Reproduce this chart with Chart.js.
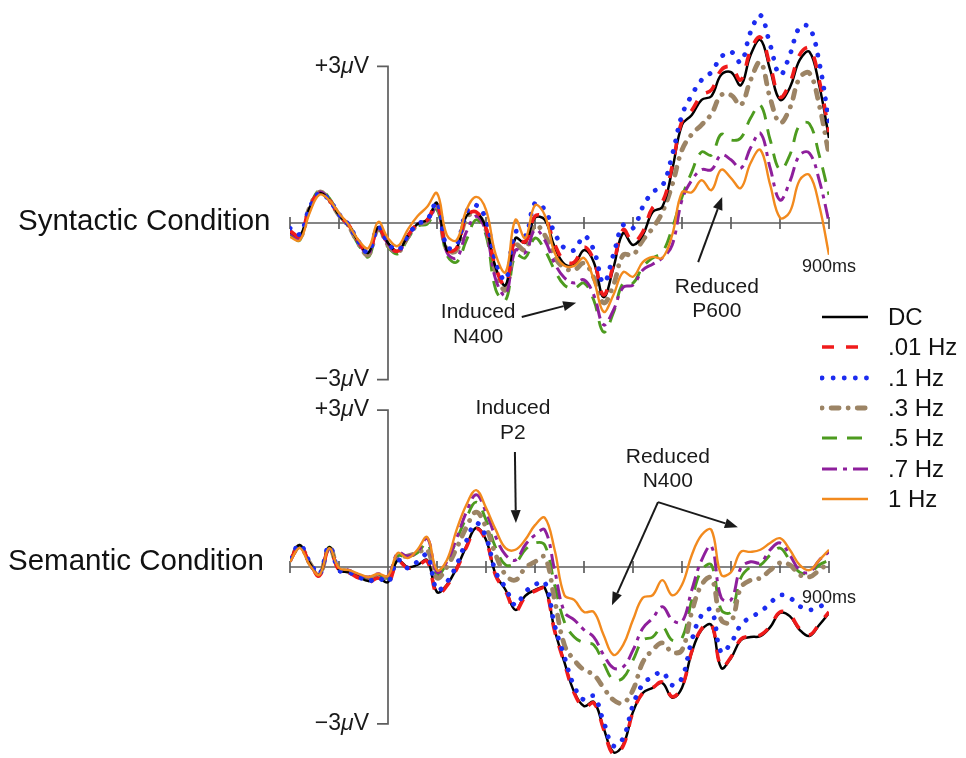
<!DOCTYPE html>
<html>
<head>
<meta charset="utf-8">
<script src="https://cdn.jsdelivr.net/npm/chart.js@4.4.1/dist/chart.umd.min.js"></script>
<style>
  html, body { margin: 0; padding: 0; background: #fff; }
  body {
    width: 966px; height: 758px; position: relative; overflow: hidden;
    font-family: 'Liberation Sans', Arial, Helvetica, sans-serif; color: #111;
  }
  .panel { position: absolute; left: 0; width: 966px; }
  #panelTop { top: 0; height: 395px; }
  #panelBot { top: 395px; height: 363px; }
  .cond { position: absolute; font-size: 29.5px; line-height: 1; white-space: nowrap; }
  #legend { position: absolute; left: 820px; top: 302px; }
  .lg-row { height: 30.3px; display: flex; align-items: center; }
  .lg-row svg { width: 50px; height: 12px; margin-right: 18px; }
  .lg-row span { font-size: 24px; line-height: 1; }
</style>
</head>
<body>
<div class="panel" id="panelTop"><canvas id="chartTop"></canvas></div>
<div class="panel" id="panelBot"><canvas id="chartBot"></canvas></div>
<div class="cond" style="left:18px;top:205px">Syntactic Condition</div>
<div class="cond" style="left:8px;top:545px">Semantic Condition</div>
<div id="legend"></div>

<script>
// ERP waveforms, syntactic vs semantic condition, one trace per high-pass filter

const TIMES = [-200,-180,-160,-140,-120,-100,-80,-60,-40,-20,0,20,40,60,80,100,120,140,160,180,200,
  220,240,260,280,300,320,340,360,380,400,420,440,460,480,500,520,540,560,580,600,620,640,660,680,700,
  720,740,760,780,800,820,840,860,880,900];
const X_TICKS = [-200,-100,0,100,200,300,400,500,600,700,800,900];
const Y_TICKS = [-3, 3];
const FILTERS = ['DC', '.01 Hz', '.1 Hz', '.3 Hz', '.5 Hz', '.7 Hz', '1 Hz'];

// syntactic condition (µV)
const synDC  = [-0.17,-0.25,0.29,0.57,0.44,0.15,-0.04,-0.36,-0.57,-0.08,-0.38,-0.54,-0.25,-0.02,0.06,0.38,-0.52,-0.48,0.13,0.21,-0.10,-0.86,-1.19,-0.29,-0.38,0.10,0.06,-0.46,-0.79,-0.80,-0.52,-0.75,-1.42,-0.86,-0.19,-0.42,-0.23,0.21,0.31,1.02,1.88,2.07,2.36,2.43,2.84,2.89,2.64,3.22,3.51,2.93,2.36,2.59,3.12,3.28,2.64,1.63];
const syn001 = [-0.15,-0.25,0.29,0.57,0.44,0.15,-0.04,-0.36,-0.56,-0.10,-0.40,-0.54,-0.25,-0.02,0.06,0.38,-0.52,-0.48,0.13,0.21,-0.10,-0.86,-1.19,-0.29,-0.36,0.13,0.10,-0.40,-0.73,-0.75,-0.46,-0.71,-1.38,-0.80,-0.13,-0.36,-0.17,0.29,0.40,1.09,1.95,2.16,2.45,2.55,2.93,2.99,2.74,3.31,3.56,3.01,2.41,2.68,3.22,3.35,2.74,1.74];
const syn01  = [-0.10,-0.21,0.29,0.57,0.44,0.17,-0.04,-0.36,-0.56,-0.08,-0.38,-0.52,-0.25,-0.02,0.06,0.40,-0.46,-0.42,0.21,0.34,0.06,-0.75,-1.09,-0.17,-0.25,0.38,0.25,-0.19,-0.48,-0.52,-0.25,-0.52,-1.15,-0.61,-0.04,-0.10,0.31,0.59,0.71,1.30,2.07,2.45,2.74,2.89,3.18,3.28,3.08,3.66,3.98,3.41,2.84,3.22,3.75,3.75,3.08,1.92];
const syn03  = [-0.17,-0.29,0.29,0.59,0.44,0.15,-0.06,-0.40,-0.61,-0.11,-0.42,-0.56,-0.27,-0.04,0.04,0.34,-0.52,-0.52,0.10,0.17,-0.13,-0.94,-1.28,-0.42,-0.52,-0.04,-0.23,-0.65,-0.86,-0.90,-0.77,-1.05,-1.53,-1.19,-0.61,-0.61,-0.33,-0.10,0.21,0.73,1.40,1.70,1.88,2.09,2.45,2.45,2.26,2.74,3.08,2.39,1.92,2.20,2.78,2.87,2.26,1.30];
const syn05  = [-0.21,-0.33,0.29,0.63,0.48,0.15,-0.08,-0.42,-0.65,-0.13,-0.46,-0.59,-0.31,-0.06,-0.02,0.25,-0.61,-0.75,-0.33,0.06,-0.23,-1.28,-1.48,-0.61,-0.67,-0.29,-0.52,-0.90,-1.19,-1.25,-1.15,-1.48,-2.09,-1.72,-1.15,-1.15,-0.84,-0.67,-0.56,-0.10,0.50,0.98,1.36,1.30,1.70,1.59,1.63,2.01,2.26,1.59,1.02,1.30,1.88,1.90,1.30,0.54];
const syn07  = [-0.19,-0.29,0.27,0.59,0.44,0.15,-0.06,-0.38,-0.59,-0.10,-0.40,-0.56,-0.27,-0.02,0.04,0.31,-0.56,-0.67,-0.17,0.13,-0.17,-1.09,-1.38,-0.52,-0.57,-0.13,-0.33,-0.77,-1.05,-1.15,-1.09,-1.38,-1.95,-1.67,-1.23,-1.19,-0.90,-0.79,-0.67,-0.42,0.44,0.82,1.02,1.02,1.30,1.21,1.05,1.44,1.72,1.05,0.44,0.79,1.30,1.34,0.82,0.02];
const syn1   = [-0.27,-0.33,0.19,0.54,0.44,0.19,-0.04,-0.33,-0.48,0.02,-0.29,-0.44,-0.13,0.13,0.31,0.57,-0.23,-0.33,0.25,0.50,0.25,-0.61,-0.94,0.06,-0.29,0.34,0.15,-0.57,-0.82,-0.82,-0.67,-1.09,-1.70,-1.38,-0.94,-1.03,-0.75,-0.65,-0.67,-0.23,0.59,0.59,0.82,0.63,1.02,0.86,0.67,1.15,1.40,0.73,0.10,0.21,0.82,0.92,0.34,-0.61];

// semantic condition (µV)
const semDC  = [0.13,0.42,0.08,-0.15,0.38,-0.06,-0.10,-0.19,-0.27,-0.21,-0.29,0.13,0,0.04,0.13,-0.48,-0.34,-0.02,0.40,0.75,0.52,-0.15,-0.44,-0.82,-0.55,-0.44,-0.40,-1.20,-1.82,-2.39,-2.66,-2.58,-3.08,-3.54,-3.40,-2.77,-2.41,-2.31,-2.22,-2.50,-2.31,-1.63,-1.20,-1.11,-1.93,-1.74,-1.40,-1.34,-1.32,-1.15,-0.88,-0.94,-1.20,-1.32,-1.11,-0.88];
const sem001 = [0.12,0.40,0.08,-0.17,0.36,-0.06,-0.11,-0.21,-0.29,-0.21,-0.31,0.11,-0.02,0.02,0.11,-0.52,-0.36,-0.04,0.38,0.73,0.50,-0.17,-0.46,-0.84,-0.57,-0.46,-0.42,-1.22,-1.84,-2.41,-2.68,-2.60,-3.10,-3.58,-3.42,-2.77,-2.41,-2.31,-2.20,-2.48,-2.29,-1.61,-1.18,-1.09,-1.91,-1.72,-1.38,-1.32,-1.30,-1.13,-0.86,-0.92,-1.18,-1.30,-1.09,-0.86];
const sem01  = [0.17,0.42,0.10,-0.13,0.40,-0.06,-0.10,-0.19,-0.27,-0.21,-0.29,0.13,-0.02,0.10,0.23,-0.44,-0.29,0.04,0.50,0.84,0.57,-0.10,-0.40,-0.73,-0.48,-0.34,-0.29,-1.11,-1.72,-2.28,-2.54,-2.47,-2.96,-3.42,-3.27,-2.64,-2.24,-2.10,-2.01,-2.26,-2.12,-1.40,-0.92,-0.82,-1.63,-1.45,-1.11,-0.96,-0.86,-0.69,-0.54,-0.59,-0.75,-0.82,-0.76,-0.67];
const sem03  = [0.13,0.40,0.08,-0.15,0.38,-0.04,-0.08,-0.17,-0.23,-0.17,-0.23,0.17,0.21,0.27,0.33,-0.21,0,0.36,0.76,1.05,0.76,0.23,-0.15,-0.25,-0.02,0.10,0.19,-0.63,-1.49,-1.78,-1.97,-2.06,-2.31,-2.54,-2.60,-2.35,-1.82,-1.59,-1.45,-1.63,-1.59,-0.86,-0.34,-0.21,-1.01,-1.05,-0.40,-0.25,-0.21,-0.06,0.08,0.04,-0.15,-0.19,-0.06,0.08];
const sem05  = [0.13,0.40,0.08,-0.15,0.38,-0.04,-0.08,-0.17,-0.21,-0.15,-0.21,0.21,0.19,0.27,0.46,-0.15,0.08,0.52,0.94,1.24,0.90,0.36,0.04,0.08,0.33,0.46,0.42,-0.34,-1.05,-1.34,-1.45,-1.49,-1.84,-2.16,-2.12,-1.78,-1.40,-1.34,-1.15,-1.40,-1.36,-0.63,-0.06,0.04,-0.82,-0.86,-0.21,0,0.04,0.23,0.36,0.13,-0.10,-0.11,0.04,0.13];
const sem07  = [0.11,0.38,0.06,-0.15,0.36,-0.04,-0.06,-0.15,-0.19,-0.13,-0.17,0.27,0.21,0.29,0.55,-0.10,0.10,0.55,1.05,1.38,1.05,0.57,0.23,0.13,0.42,0.61,0.71,-0.06,-0.86,-1.01,-1.20,-1.34,-1.68,-1.93,-1.91,-1.59,-1.17,-0.98,-0.76,-1.01,-1.05,-0.44,0.13,0.40,-0.59,-0.63,-0.02,0.10,0.08,0.33,0.46,0.23,-0.06,-0.10,0.13,0.29];
const sem1   = [0.10,0.36,0.04,-0.15,0.36,-0.02,-0.06,-0.13,-0.19,-0.13,-0.17,0.27,0.17,0.33,0.57,-0.06,0.13,0.71,1.19,1.47,1.13,0.71,0.36,0.33,0.52,0.80,0.94,0.33,-0.54,-0.63,-0.86,-0.86,-1.30,-1.68,-1.49,-1.01,-0.59,-0.54,-0.25,-0.54,-0.34,0.23,0.61,0.71,-0.15,-0.10,0.29,0.29,0.33,0.46,0.55,0.33,0.04,-0.06,0.13,0.33];

// line look per filter (same order as FILTERS); z = stacking, 0 is top-most
const STYLES = [
  { color: '#000000', width: 2.5, dash: [],              cap: 'butt',  z: 3 },
  { color: '#f01b1b', width: 3.6, dash: [12, 12],        cap: 'butt',  z: 2 },
  { color: '#1c2cf0', width: 4.8, dash: [0.1, 11],       cap: 'round', z: 1 },
  { color: '#9c8465', width: 4.8, dash: [0.1, 9, 8, 9],  cap: 'round', z: 5 },
  { color: '#4d9b1f', width: 2.9, dash: [15, 10],        cap: 'butt',  z: 6 },
  { color: '#8e1f9c', width: 3.0, dash: [15, 6, 4, 6],   cap: 'butt',  z: 4 },
  { color: '#f28a1e', width: 2.4, dash: [],              cap: 'butt',  z: 0 }
];

const FONT = "'Liberation Sans', Arial, Helvetica, sans-serif";
const AXIS_COLOR = '#5e5e5e';
const INK = '#1a1a1a';

function drawMuLabel(ctx, sign, right, cy) {
  const parts = [[sign + '3', 'normal'], ['\u03BC', 'italic'], ['V', 'normal']];
  let w = 0;
  parts.forEach(p => { ctx.font = `${p[1]} 23px ${FONT}`; w += ctx.measureText(p[0]).width; });
  let px = right - w;
  parts.forEach(p => {
    ctx.font = `${p[1]} 23px ${FONT}`;
    ctx.fillText(p[0], px, cy);
    px += ctx.measureText(p[0]).width;
  });
}

function drawArrow(ctx, x1, y1, x2, y2) {
  const a = Math.atan2(y2 - y1, x2 - x1);
  const len = 13, half = 5;
  const bx = x2 - len * Math.cos(a), by = y2 - len * Math.sin(a);
  ctx.beginPath();
  ctx.moveTo(x1, y1);
  ctx.lineTo(bx, by);
  ctx.stroke();
  ctx.beginPath();
  ctx.moveTo(x2, y2);
  ctx.lineTo(bx + half * Math.sin(a), by - half * Math.cos(a));
  ctx.lineTo(bx - half * Math.sin(a), by + half * Math.cos(a));
  ctx.closePath();
  ctx.fill();
}

const erpAxes = {
  id: 'erpAxes',
  beforeDatasetsDraw(chart, args, opts) {
    const { ctx, scales: { x, y } } = chart;
    const x0 = x.getPixelForValue(0), y0 = y.getPixelForValue(0);
    const yTop = y.getPixelForValue(Y_TICKS[1]), yBot = y.getPixelForValue(Y_TICKS[0]);
    ctx.save();
    ctx.strokeStyle = AXIS_COLOR;
    ctx.lineWidth = 1.7;
    ctx.beginPath();
    ctx.moveTo(x.getPixelForValue(X_TICKS[0]), y0);
    ctx.lineTo(x.getPixelForValue(X_TICKS[X_TICKS.length - 1]), y0);
    X_TICKS.forEach(t => {
      const px = x.getPixelForValue(t);
      ctx.moveTo(px, y0 - 6);
      ctx.lineTo(px, y0 + 6);
    });
    ctx.moveTo(x0 - 11, yTop);
    ctx.lineTo(x0, yTop);
    ctx.lineTo(x0, yBot);
    ctx.lineTo(x0 - 11, yBot);
    ctx.stroke();

    ctx.fillStyle = INK;
    ctx.textBaseline = 'middle';
    ctx.textAlign = 'left';
    drawMuLabel(ctx, '+', x0 - 19, yTop);
    drawMuLabel(ctx, '\u2212', x0 - 19, yBot);

    ctx.font = `18px ${FONT}`;
    ctx.textAlign = 'center';
    ctx.textBaseline = 'alphabetic';
    ctx.fillText('900ms', x.getPixelForValue(900), y0 + opts.msDrop);
    ctx.restore();
  },
  afterDatasetsDraw(chart, args, opts) {
    const { ctx, scales: { x, y } } = chart;
    ctx.save();
    ctx.fillStyle = INK;
    ctx.strokeStyle = INK;
    ctx.lineWidth = 2;
    ctx.font = `21px ${FONT}`;
    ctx.textAlign = 'center';
    ctx.textBaseline = 'middle';
    (opts.notes || []).forEach(n => {
      n.lines.forEach((s, i) => ctx.fillText(s, x.getPixelForValue(n.t), y.getPixelForValue(n.v[i])));
    });
    (opts.arrows || []).forEach(a => {
      drawArrow(ctx, x.getPixelForValue(a.from[0]), y.getPixelForValue(a.from[1]),
                     x.getPixelForValue(a.to[0]), y.getPixelForValue(a.to[1]));
    });
    ctx.restore();
  }
};

function makeErpChart(id, seriesList, frame, extras) {
  const ctx = document.getElementById(id).getContext('2d');
  const datasets = seriesList.map((vals, i) => ({
    label: FILTERS[i],
    data: TIMES.map((t, k) => ({ x: t, y: vals[k] })),
    borderColor: STYLES[i].color,
    borderWidth: STYLES[i].width,
    borderDash: STYLES[i].dash,
    borderCapStyle: STYLES[i].cap,
    borderJoinStyle: 'round',
    order: STYLES[i].z,
    fill: false,
    tension: 0.4,
    pointRadius: 0
  }));
  return new Chart(ctx, {
    type: 'line',
    data: { datasets },
    options: {
      responsive: true,
      maintainAspectRatio: false,
      animation: false,
      layout: { padding: { left: 290, right: 137, top: 0, bottom: 0 } },
      scales: {
        x: { type: 'linear', min: -200, max: 900, display: false },
        y: { min: -(frame.height - frame.zero) / frame.pxPerUv, max: frame.zero / frame.pxPerUv, display: false }
      },
      plugins: {
        legend: { display: false },
        tooltip: { enabled: false },
        erpAxes: extras
      }
    },
    plugins: [erpAxes]
  });
}

makeErpChart('chartTop', [synDC, syn001, syn01, syn03, syn05, syn07, syn1],
  { height: 395, zero: 223, pxPerUv: 52.2 },
  {
    msDrop: 49,
    notes: [
      { lines: ['Induced', 'N400'], t: 184, v: [-1.70, -2.18] },
      { lines: ['Reduced', 'P600'], t: 671, v: [-1.23, -1.69] }
    ],
    arrows: [
      { from: [273, -1.80], to: [384, -1.53] },
      { from: [633, -0.75], to: [682, 0.50] }
    ]
  });

makeErpChart('chartBot', [semDC, sem001, sem01, sem03, sem05, sem07, sem1],
  { height: 363, zero: 172, pxPerUv: 52.3 },
  {
    msDrop: 36,
    notes: [
      { lines: ['Induced', 'P2'], t: 255, v: [3.04, 2.56] },
      { lines: ['Reduced', 'N400'], t: 571, v: [2.10, 1.64] }
    ],
    arrows: [
      { from: [259, 2.20], to: [261, 0.84] },
      { from: [551, 1.24], to: [457, -0.73] },
      { from: [551, 1.24], to: [714, 0.76] }
    ]
  });

// legend built from the same filter list and line styles
const legend = document.getElementById('legend');
FILTERS.forEach((name, i) => {
  const s = STYLES[i];
  const row = document.createElement('div');
  row.className = 'lg-row';
  row.innerHTML =
    `<svg viewBox="0 0 50 12"><line x1="2" y1="6" x2="48" y2="6" stroke="${s.color}" ` +
    `stroke-width="${s.width}" stroke-dasharray="${s.dash.join(' ') || 'none'}" stroke-linecap="${s.cap}"/></svg>` +
    `<span>${name}</span>`;
  legend.appendChild(row);
});
</script>
</body>
</html>
